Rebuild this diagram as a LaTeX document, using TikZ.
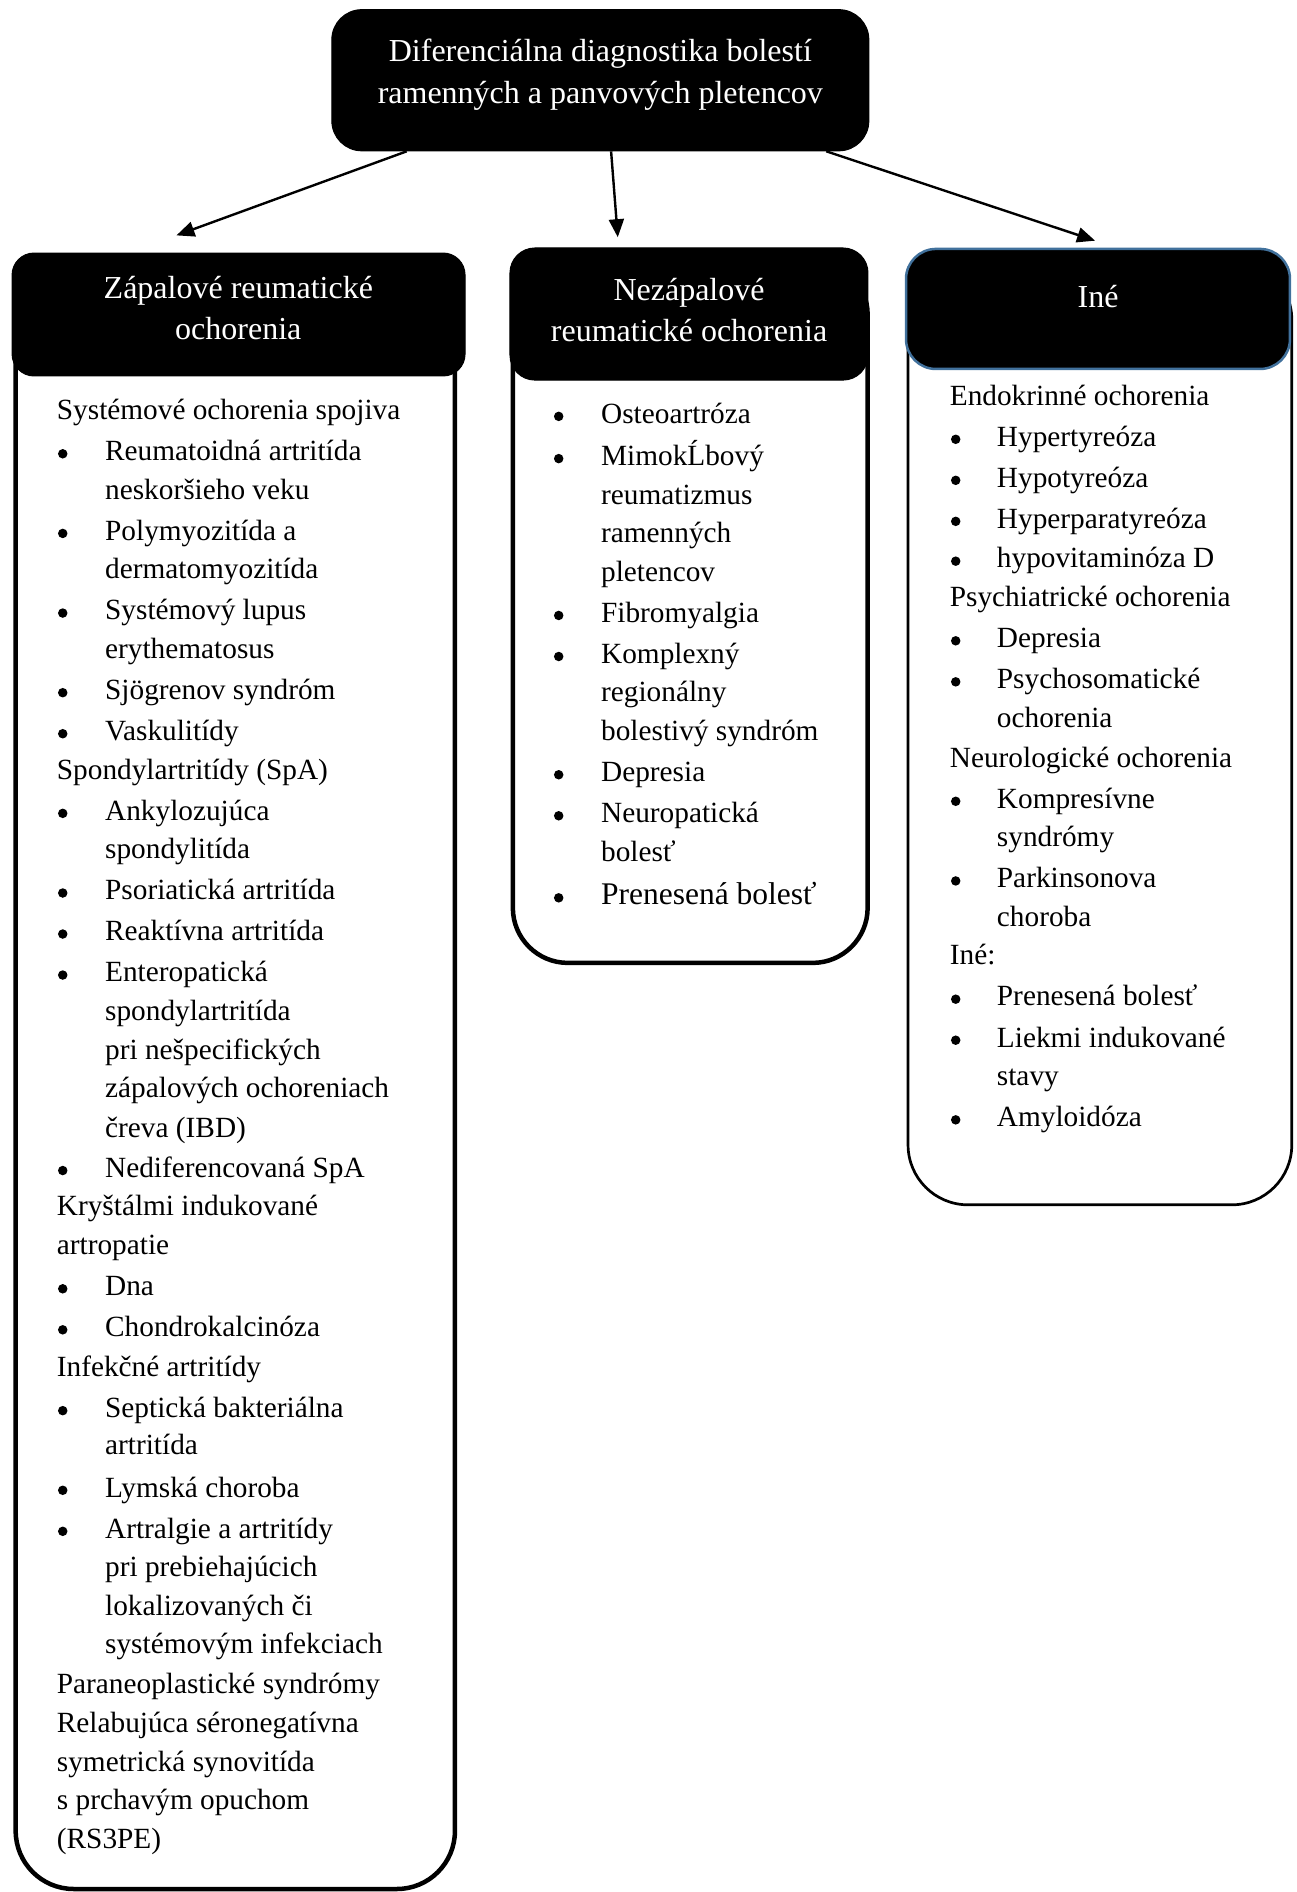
\documentclass[tikz,border=0pt]{standalone}
\usepackage{fontspec}
\setmainfont{Liberation Serif}
\usetikzlibrary{fit,calc,arrows.meta}
\definecolor{hdrblue}{HTML}{41719C}

\newcommand\listcol[5]{%
  \foreach \yy/\kk/\tx [count=\i] in {#5}{%
    \ifcase\kk\relax
      \node[txt] (#1\i) at (#2,\yy) {\tx};
    \or
      \node[bul] (#1b\i) at (#3,\yy) {};
      \node[txt] (#1\i) at (#4,\yy) {\tx};
    \or
      \node[txt] (#1\i) at (#4,\yy) {\tx};
    \or
      \node[bul] (#1b\i) at (#3,\yy) {};
      \node[txt, font=\fontsize{31.5}{38}\selectfont] (#1\i) at (#4,\yy) {\tx};
    \fi
  }%
}

\begin{document}
\begin{tikzpicture}[x=1.206704pt, y=-1.206633pt,
  hdr/.style={inner sep=0pt, fill=black, draw=black, line width=1pt},
  bodybox/.style={inner sep=0pt, draw=black, fill=white},
  htext/.style={text=white, align=center, inner sep=0pt, font=\fontsize{32}{41}\selectfont},
  txt/.style={anchor=mid west, inner sep=0pt, yshift=-7pt, font=\fontsize{29.3}{36}\selectfont},
  bul/.style={circle, fill=black, inner sep=0pt, minimum size=9.5pt, yshift=-2.5pt},
  arr/.style={line width=2.4pt, -{Triangle[length=18pt,width=15pt]}}
]
\useasboundingbox (0,0) rectangle (1074,1568);

% list bodies
\node[bodybox, line width=4.5pt, rounded corners=58pt, fit={(13,215)(377,1565.5)}] (zapbody) {};
\node[bodybox, line width=4.5pt, rounded corners=55pt, fit={(425,215)(719,798)}] (nezbody) {};
\node[bodybox, line width=2.7pt, rounded corners=60pt, fit={(752.5,215)(1070.5,998.5)}] (inebody) {};

% headers
\node[hdr, rounded corners=30pt, fit={(275,8)(720,125)}] (top) {};
\node[hdr, rounded corners=22pt, fit={(10,209.7)(385.4,311.6)}] (zap) {};
\node[hdr, rounded corners=25pt, fit={(422.6,205.5)(719.3,315)}] (nez) {};
\node[hdr, draw=hdrblue, line width=2.5pt, rounded corners=30pt, fit={(750.8,206.3)(1069,305.8)}] (ine) {};

% header texts
\node[htext, font=\fontsize{32}{42}\selectfont] (toptext) at (497.5,62) {Diferenciálna diagnostika bolestí\\ramenných a panvových pletencov};
\node[htext] (zaptext) at (197.5,255) {Zápalové reumatické\\ochorenia};
\node[htext] (neztext) at (571,257) {Nezápalové\\reumatické ochorenia};
\node[htext, anchor=mid] (inetext) at (910,253) {Iné};

% arrows
\draw[arr] ($(top.south west)!0.14!(top.south east)$) -- ($(zap.north)+(-51.5,-14.2)$);
\draw[arr] ($(top.south west)!0.52!(top.south east)$) -- ($(nez.north)+(-59,-8.5)$);
\draw[arr] ($(top.south west)!0.92!(top.south east)$) -- ($(ine.north)+(-2.4,-5.8)$);

% left column
\listcol{L}{47}{52}{87}{%
340/0/{Systémové ochorenia spojiva},
374/1/{Reumatoidná artritída},
406/2/{neskoršieho veku},
440/1/{Polymyozitída a},
472/2/{dermatomyozitída},
506/1/{Systémový lupus},
538/2/{erythematosus},
572/1/{Sjögrenov syndróm},
606/1/{Vaskulitídy},
638/0/{Spondylartritídy (SpA)},
672/1/{Ankylozujúca},
704/2/{spondylitída},
738/1/{Psoriatická artritída},
772/1/{Reaktívna artritída},
806/1/{Enteropatická},
838/2/{spondylartritída},
870/2/{pri nešpecifických},
902/2/{zápalových ochoreniach},
935/2/{čreva (IBD)},
968/1/{Nediferencovaná SpA},
1000/0/{Kryštálmi indukované},
1032/0/{artropatie},
1066/1/{Dna},
1100/1/{Chondrokalcinóza},
1133/0/{Infekčné artritídy},
1167/1/{Septická bakteriálna},
1198/2/{artritída},
1233/1/{Lymská choroba},
1267/1/{Artralgie a artritídy},
1299/2/{pri prebiehajúcich},
1331/2/{lokalizovaných či},
1363/2/{systémovým infekciach},
1396/0/{Paraneoplastické syndrómy},
1428/0/{Relabujúca séronegatívna},
1460/0/{symetrická synovitída},
1492/0/{s prchavým opuchom},
1524/0/{(RS3PE)}}

% middle column
\listcol{M}{463}{463}{498}{%
343/1/{Osteoartróza},
378/1/{MimokĹbový},
410/2/{reumatizmus},
442/2/{ramenných},
474/2/{pletencov},
508/1/{Fibromyalgia},
542/1/{Komplexný},
574/2/{regionálny},
606/2/{bolestivý syndróm},
640/1/{Depresia},
674/1/{Neuropatická},
706/2/{bolesť},
742/3/{Prenesená bolesť}}

% right column
\listcol{R}{787}{792}{826}{%
328/0/{Endokrinné ochorenia},
362/1/{Hypertyreóza},
396/1/{Hypotyreóza},
430/1/{Hyperparatyreóza},
463/1/{hypovitaminóza D},
495/0/{Psychiatrické ochorenia},
529/1/{Depresia},
563/1/{Psychosomatické},
595/2/{ochorenia},
628/0/{Neurologické ochorenia},
662/1/{Kompresívne},
694/2/{syndrómy},
728/1/{Parkinsonova},
760/2/{choroba},
792/0/{Iné:},
826/1/{Prenesená bolesť},
860/1/{Liekmi indukované},
892/2/{stavy},
926/1/{Amyloidóza}}
\end{tikzpicture}
\end{document}
